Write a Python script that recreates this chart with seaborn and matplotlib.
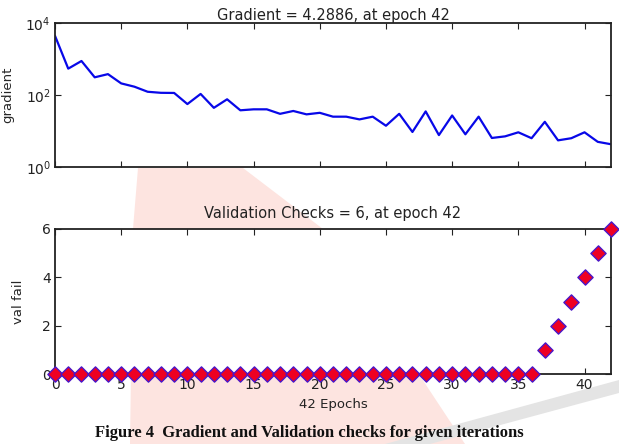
import numpy as np
import pandas as pd
import matplotlib
matplotlib.use("Agg")
import matplotlib.pyplot as plt
from matplotlib.patches import Polygon
import seaborn as sns

# ---- data ----
epochs = list(range(43))
gradient = [4400, 540, 880, 310, 380, 210, 170, 123, 115, 114,
            56, 107, 44, 76, 37.6, 40, 40, 30, 36, 29,
            32, 25, 25, 21, 25, 14, 30, 9.4, 35, 7.7,
            27, 8.1, 25, 6.4, 7.1, 9.2, 6.3, 18, 5.5, 6.3,
            9.2, 5.0, 4.2886]
val_fail = [0] * 37 + [1, 2, 3, 4, 5, 6]
x_ticks = [0, 5, 10, 15, 20, 25, 30, 35, 40]
val_ticks = [0, 2, 4, 6]
grad_ticks = [1, 100, 10000]

title_top = "Gradient = 4.2886, at epoch 42"
title_bot = "Validation Checks = 6, at epoch 42"
caption = "Figure 4  Gradient and Validation checks for given iterations"

df = pd.DataFrame({"epoch": epochs, "gradient": gradient, "val_fail": val_fail})

sns.set_theme(style="white")
plt.rcParams["font.family"] = ["DejaVu Sans"]

W, H = 619, 444
fig = plt.figure(figsize=(W / 100, H / 100), dpi=100)

# faint watermark behind axes
wm = Polygon([(138 / W, 1 - 168 / H), (243 / W, 1 - 168 / H), (323 / W, 1 - 229 / H),
              (465 / W, 0.0), (130 / W, 0.0), (133 / W, 1 - 229 / H)], closed=True,
             transform=fig.transFigure, facecolor="#fde4e0", edgecolor="none", zorder=-10)
fig.patches.append(wm)
wm2 = Polygon([(385 / W, 0.0), (619 / W, 1 - 380 / H), (619 / W, 1 - 393 / H), (430 / W, 0.0)],
              closed=True, transform=fig.transFigure, facecolor="#e4e4e4",
              edgecolor="none", zorder=-9)
fig.patches.append(wm2)

ax1 = fig.add_axes([55 / W, 1 - 167 / H, 556 / W, 144 / H])
ax2 = fig.add_axes([55 / W, 1 - 374 / H, 556 / W, 145 / H])

sns.lineplot(data=df, x="epoch", y="gradient", ax=ax1, color="#0808e8", linewidth=1.6)
ax1.set_yscale("log")
ax1.set_ylim(1, 10000)
ax1.set_xlim(0, 42)
ax1.set_yticks(grad_ticks)
ax1.minorticks_off()
ax1.set_xticks(x_ticks)
ax1.set_xticklabels([])
ax1.set_xlabel("")
ax1.set_ylabel("gradient", fontsize=9.5, labelpad=8)
ax1.set_title(title_top, fontsize=10.5, pad=1, color="#222222")

sns.scatterplot(data=df, x="epoch", y="val_fail", ax=ax2, marker="D", s=60,
                color="#ee0022", edgecolor="#4a16c8", linewidth=1.0, clip_on=False, zorder=5)
ax2.set_ylim(0, 6)
ax2.set_xlim(0, 42)
ax2.set_yticks(val_ticks)
ax2.set_xticks(x_ticks)
ax2.set_xlabel("42 Epochs", fontsize=9.5, labelpad=4, color="#222222")
ax2.set_ylabel("val fail", fontsize=9.5, labelpad=12)
ax2.set_title(title_bot, fontsize=10.5, pad=8, color="#222222")

for ax in (ax1, ax2):
    ax.set_facecolor("white")
    for sp in ax.spines.values():
        sp.set_color("#222222")
        sp.set_linewidth(1.3)
        sp.set_visible(True)
    ax.tick_params(direction="in", length=4, width=0.8, top=True, right=True,
                   bottom=True, left=True, labelsize=10, colors="#222222", pad=3)
    ax.grid(False)

fig.text(0.5, 1 - 433 / H, caption, ha="center", va="center", fontsize=12,
         fontweight="bold", family=["Liberation Serif", "DejaVu Serif"], color="#111111")

fig.savefig("out.png", dpi=100)
